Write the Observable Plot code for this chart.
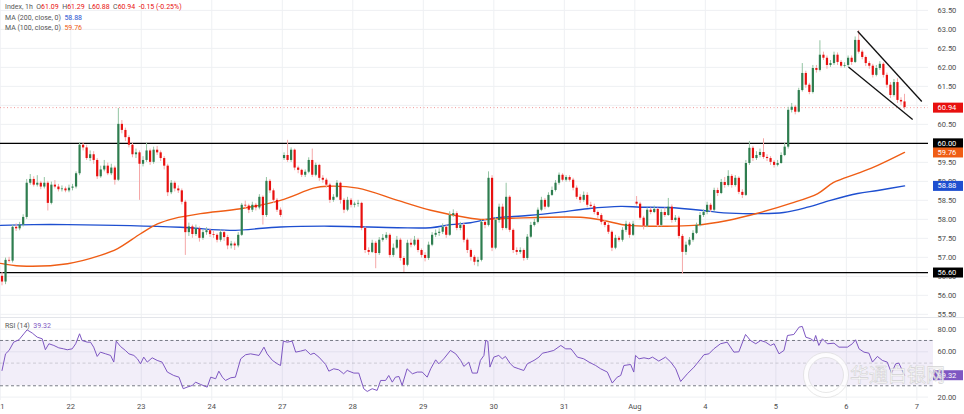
<!DOCTYPE html>
<html><head><meta charset="utf-8">
<script src="https://cdn.jsdelivr.net/npm/d3@7"></script>
<script src="https://cdn.jsdelivr.net/npm/@observablehq/plot@0.6"></script>
<style>
body{margin:0;background:#fff;font-family:Roboto,"Noto Sans",sans-serif;}
#wrap{position:relative;width:964px;height:414px;overflow:hidden;background:#fff;}
#price{position:absolute;left:0;top:0;}
#rsi{position:absolute;left:0;top:318px;}
#sep{position:absolute;left:0;top:317px;width:964px;height:1px;background:#e3e5ea;}
.lg{position:absolute;left:5px;font-size:7px;color:#555;white-space:pre;line-height:8px;}
.r{color:#e8100f}.b{color:#1e4fd0}.o{color:#ef5d15}.p{color:#7e57c2}
#wm{position:absolute;left:800px;top:350px;pointer-events:none;}
</style></head><body>
<div id="wrap">
  <div id="price"></div>
  <div id="sep"></div>
  <div id="rsi"></div>
  <div class="lg" style="top:3px">Index, 1h  O<span class="r">61.09</span>  H<span class="r">61.29</span>  L<span class="r">60.88</span>  C<span class="r">60.94</span>  <span class="r">-0.15 (-0.25%)</span></div>
  <div class="lg" style="top:14px">MA (200, close, 0)  <span class="b">58.88</span></div>
  <div class="lg" style="top:24px">MA (100, close, 0)  <span class="o">59.76</span></div>
  <div class="lg" style="top:322px">RSI (14)  <span class="p">39.32</span></div>
  <svg id="wm" width="160" height="52">
    <circle cx="26" cy="25" r="20" fill="none" stroke="#fff" stroke-width="5" opacity="0.8"/>
    <circle cx="26" cy="25" r="22.5" fill="none" stroke="#d6d6d6" stroke-width="0.6"/>
    <circle cx="26" cy="25" r="17.5" fill="none" stroke="#d6d6d6" stroke-width="0.6"/>
    <text x="50" y="32" font-family="Noto Sans CJK SC" font-size="19" fill="#fff" stroke="#cfcfcf" stroke-width="0.6" opacity="0.9">华通白银网</text>
  </svg>
</div>
<script>
// ---- data ----
const dayLabels = ["21","22","23","24","27","28","29","30","31","Aug","4","5","6","7"];
const candlesPerDay = 20;

const open = [
56.50,56.35,56.92,56.90,57.79,57.75,57.85,58.05,58.95,59.05,58.90,58.95,58.85,58.95,58.42,58.90,58.85,58.78,58.80,58.75,
58.82,58.85,59.20,59.95,59.88,59.60,59.70,59.55,59.12,59.30,59.40,59.20,59.35,59.03,60.50,60.34,60.15,59.95,59.70,59.75,
59.45,59.55,59.80,59.50,59.82,59.75,59.60,59.40,58.70,58.95,58.80,58.75,58.45,57.65,57.80,57.60,57.75,57.50,57.65,57.70,
57.60,57.58,57.45,57.65,57.52,57.30,57.35,57.30,57.58,58.37,58.35,58.24,58.37,58.30,58.58,58.10,59.00,58.75,58.50,58.24,
59.60,59.68,59.55,59.82,59.35,59.29,59.16,59.24,59.55,59.16,59.42,59.08,59.03,58.90,58.50,58.58,58.95,58.50,58.24,58.50,
58.37,58.40,58.42,57.76,57.18,57.13,57.37,57.10,57.45,57.50,57.58,57.05,57.24,57.45,56.97,56.79,57.37,57.32,57.45,57.18,
57.05,56.97,57.32,57.58,57.63,57.66,57.79,57.58,58.10,58.15,57.76,57.84,57.45,57.18,57.00,56.87,56.92,57.92,57.84,59.08,
57.24,57.97,58.32,57.76,58.58,57.71,57.18,57.13,57.18,56.97,57.53,57.84,57.92,58.24,58.50,58.32,58.63,58.76,58.95,59.16,
59.03,59.10,59.03,58.82,58.58,58.50,58.63,58.37,58.34,58.18,58.10,57.92,57.84,57.66,57.24,57.50,57.45,57.71,57.87,57.58,
58.45,58.40,58.03,57.82,58.24,58.18,58.26,57.84,58.18,58.10,58.32,57.97,58.03,57.55,57.13,57.32,57.45,57.63,57.84,58.10,
58.18,58.37,58.24,58.76,58.68,58.97,58.89,59.13,58.89,59.08,58.71,58.63,59.47,59.87,59.60,59.68,59.76,59.63,59.60,59.50,
59.42,59.47,59.68,59.90,60.87,60.95,60.82,61.39,61.84,61.53,61.34,61.97,61.92,62.32,62.24,62.05,62.10,62.32,62.13,62.03,
62.05,62.24,62.13,62.71,62.40,62.26,62.10,62.03,61.79,61.97,62.08,61.79,61.53,61.26,61.60,61.13,61.09];

const high = [
56.60,56.98,57.00,57.85,57.88,57.92,58.12,59.05,59.18,59.12,59.15,59.00,59.10,59.00,58.98,59.02,58.92,58.88,58.85,58.90,
58.92,59.25,60.02,60.02,59.95,59.80,59.78,59.60,59.40,59.55,59.48,59.45,59.40,60.92,60.60,60.40,60.20,60.00,59.85,59.80,
59.65,60.00,59.85,59.90,59.92,59.80,59.65,59.45,59.02,59.00,58.88,58.80,58.50,57.90,57.85,57.85,57.80,57.72,57.78,57.75,
57.68,57.62,57.72,57.70,57.58,57.42,57.40,57.65,58.42,58.48,58.40,58.45,58.42,58.65,58.62,59.10,59.05,58.80,58.55,58.30,
59.75,60.08,59.88,59.85,59.40,59.32,59.30,59.62,59.85,59.48,59.45,59.15,59.08,58.95,58.65,59.02,58.98,58.55,58.58,58.55,
58.45,58.50,58.45,57.80,57.25,57.45,57.42,57.52,57.60,57.65,57.62,57.35,57.55,57.50,57.02,57.45,57.48,57.55,57.50,57.22,
57.12,57.40,57.65,57.72,57.75,57.88,57.85,58.20,58.25,58.20,57.92,57.90,57.50,57.22,57.05,57.00,57.98,58.00,59.25,59.15,
58.05,58.40,58.40,58.95,58.62,57.75,57.25,57.25,57.22,57.60,57.92,58.00,58.30,58.58,58.55,58.70,58.85,59.02,59.22,59.20,
59.15,59.15,59.08,58.88,58.65,58.72,58.70,58.45,58.40,58.22,58.15,57.98,57.90,57.70,57.58,57.55,57.78,57.95,57.92,57.95,
58.60,58.45,58.08,58.30,58.30,58.35,58.30,58.25,58.30,58.55,58.38,58.10,58.08,57.60,57.40,57.52,57.70,57.90,58.18,58.25,
58.45,58.42,58.82,58.82,59.05,59.10,59.28,59.18,59.15,59.12,58.78,59.55,60.05,59.92,59.78,59.85,60.12,59.70,59.65,59.55,
59.55,59.75,60.00,60.95,61.05,61.00,61.45,62.10,61.90,61.58,62.05,62.05,62.70,62.40,62.30,62.18,62.40,62.38,62.18,62.12,
62.30,62.30,62.80,62.97,62.45,62.30,62.15,62.08,62.05,62.15,62.12,61.85,61.60,61.68,61.70,61.20,61.29];

const low = [
56.25,56.28,56.85,56.85,57.68,57.70,57.80,58.00,58.90,58.85,58.85,58.78,58.80,58.22,58.38,58.80,58.72,58.72,58.70,58.70,
58.75,58.80,59.15,59.80,59.55,59.52,59.45,59.05,59.08,59.25,59.15,59.15,58.90,59.00,60.25,60.05,59.88,59.62,59.60,58.50,
59.38,59.50,59.42,59.45,59.68,59.52,59.30,58.60,58.65,58.72,58.68,58.38,57.05,57.55,57.50,57.55,57.40,57.45,57.58,57.52,
57.50,57.38,57.40,57.42,57.20,57.22,57.18,57.25,57.55,58.28,58.15,58.18,58.22,58.25,57.85,58.05,58.68,58.42,58.18,58.05,
59.55,59.50,59.50,59.28,59.20,59.10,59.10,59.20,59.10,59.12,59.00,58.95,58.82,58.42,58.45,58.55,58.40,58.15,58.20,58.30,
58.30,58.32,57.70,57.10,57.05,57.10,56.70,57.05,57.40,57.45,56.98,57.00,57.20,56.90,56.60,56.75,57.25,57.28,57.12,56.98,
56.88,56.92,57.28,57.52,57.55,57.60,57.50,57.55,58.05,57.70,57.70,57.38,57.10,56.90,56.78,56.75,56.88,57.75,57.80,57.15,
57.20,57.90,57.70,57.72,57.65,57.10,57.05,57.08,56.90,56.92,57.50,57.80,57.88,58.20,58.25,58.30,58.60,58.72,58.90,58.98,
58.98,58.98,58.75,58.52,58.42,58.45,58.30,58.28,58.12,58.02,57.85,57.78,57.60,57.15,57.20,57.40,57.40,57.65,57.50,57.55,
58.35,57.98,57.72,57.78,58.12,58.15,57.78,57.80,58.05,58.08,57.90,57.92,57.48,56.55,57.05,57.28,57.40,57.60,57.80,58.05,
58.12,58.18,58.20,58.60,58.65,58.82,58.85,58.82,58.85,58.65,58.55,58.60,59.42,59.52,59.55,59.62,59.58,59.52,59.42,59.35,
59.38,59.45,59.65,59.85,60.80,60.75,60.80,61.35,61.45,61.28,61.30,61.85,61.88,62.18,61.95,62.00,62.05,62.05,61.98,61.98,
62.00,62.05,62.10,62.35,62.20,62.02,61.95,61.72,61.75,61.92,61.72,61.45,61.18,61.22,61.05,61.00,60.88];

const close = [
56.35,56.92,56.90,57.79,57.75,57.85,58.05,58.95,59.05,58.90,58.95,58.85,58.95,58.42,58.90,58.85,58.78,58.80,58.75,58.82,
58.85,59.20,59.95,59.88,59.60,59.70,59.55,59.12,59.30,59.40,59.20,59.35,59.03,60.50,60.34,60.15,59.95,59.70,59.75,59.45,
59.55,59.80,59.50,59.82,59.75,59.60,59.40,58.70,58.95,58.80,58.75,58.45,57.65,57.80,57.60,57.75,57.50,57.65,57.70,57.60,
57.58,57.45,57.65,57.52,57.30,57.35,57.30,57.58,58.37,58.35,58.24,58.37,58.30,58.58,58.10,59.00,58.75,58.50,58.24,58.10,
59.68,59.55,59.82,59.35,59.29,59.16,59.24,59.55,59.16,59.42,59.08,59.03,58.90,58.50,58.58,58.95,58.50,58.24,58.50,58.37,
58.40,58.42,57.76,57.18,57.13,57.37,57.10,57.45,57.50,57.58,57.05,57.24,57.45,56.97,56.79,57.37,57.32,57.45,57.18,57.05,
56.97,57.32,57.58,57.63,57.66,57.79,57.58,58.10,58.15,57.76,57.84,57.45,57.18,57.00,56.87,56.92,57.92,57.84,59.08,57.24,
57.97,58.32,57.76,58.58,57.71,57.18,57.13,57.18,56.97,57.53,57.84,57.92,58.24,58.50,58.32,58.63,58.76,58.95,59.16,59.03,
59.10,59.03,58.82,58.58,58.50,58.63,58.37,58.34,58.18,58.10,57.92,57.84,57.66,57.24,57.50,57.45,57.71,57.87,57.58,57.87,
58.40,58.03,57.82,58.24,58.18,58.26,57.84,58.18,58.10,58.32,57.97,58.03,57.55,57.13,57.32,57.45,57.63,57.84,58.10,58.18,
58.37,58.24,58.76,58.68,58.97,58.89,59.13,58.89,59.08,58.71,58.63,59.47,59.87,59.60,59.68,59.76,59.63,59.60,59.50,59.42,
59.47,59.68,59.90,60.87,60.95,60.82,61.39,61.84,61.53,61.34,61.97,61.92,62.32,62.24,62.05,62.10,62.32,62.13,62.03,62.05,
62.24,62.13,62.71,62.40,62.26,62.10,62.03,61.79,61.97,62.08,61.79,61.53,61.26,61.60,61.13,61.09,60.94];

const ma200X = [-0.4,8.9,18.6,50.6,64.8,79,93.2,112.2,121.6,127.2,132.9,139.4,149.1,158.4,166.1,175.5,181.1,188.8,198.2,204.7,214.3,221.7,228.5,235,242.7,248.4,256];
const ma200V = [57.84,57.86,57.86,57.79,57.71,57.80,57.82,57.78,57.78,57.86,57.91,58.03,58.10,58.19,58.28,58.34,58.32,58.31,58.24,58.17,58.15,58.18,58.32,58.50,58.68,58.76,58.88];
const ma100X = [-0.4,5.3,18.6,27.9,32.8,39.3,44.1,48.7,56.3,67.7,79,88.4,92.3,100.9,112.2,121.6,132.9,135.7,144.3,165,170.6,177.5,186.8,196.2,205.8,214.3,223.7,231.4,235.9,242.7,248.4,256];
const ma100V = [56.84,56.77,56.83,57.05,57.23,57.62,57.88,58.02,58.15,58.28,58.50,58.82,58.87,58.82,58.50,58.24,58.03,58.00,58.03,58.05,57.97,57.84,57.82,57.84,57.97,58.16,58.42,58.68,58.97,59.21,59.42,59.76];

const rsiX = [0,1,2,3.3,4.8,6.2,7.1,8.6,10,11.4,12.3,13.3,14.7,16.1,17.5,18.5,19.9,20.9,22,22.7,24.2,25.1,26,27,27.9,29.4,30.8,31.7,32.4,33.6,35,36,37.4,38.4,39.3,40.2,41.2,42.6,44,45.4,46.9,48.7,50.2,51.4,52.5,54,54.9,56.3,58.2,59.2,60.6,61.5,62.5,63.4,64.9,66.2,67.7,69.1,70.5,72.9,74.3,75.2,76.7,78.1,79,79.8,80.9,82.3,83.3,84.7,86.1,87.5,88.5,89.9,91.8,92.7,94.1,95.5,96.9,97.9,99.8,101.2,102.6,103.6,105,106.4,107.4,108.8,109.7,110.7,111.6,112.6,113.5,114.9,116.4,117.8,119.2,120.6,121.6,123,123.9,125.3,127.2,128.7,130.1,131,132.4,133.4,134.8,135.7,136.7,137.2,137.8,138.4,139.5,140.9,141.9,142.8,144.2,145.2,146.6,148,149,150.9,152.3,153.3,154.7,156.5,158.5,159.9,161.4,163.2,165,166.5,168.4,169.8,171.7,173.1,174.5,175.5,176.4,178.3,179.2,179.7,180.7,182.1,183.5,184.5,186.3,188.2,189.7,191.1,192.5,194.4,196.3,198.2,199.1,200.5,201.9,203.8,205.7,207.6,209,210.9,212.3,213.8,215.2,216.6,218,219,220.4,221.8,222.8,224.6,226.1,227,228,229.4,230.3,230.8,231.7,232.7,234.1,236,237.4,239.8,241.2,242.1,243.1,244.5,245.9,246.9,248.3,249.7,251.1,252.3,253.5,254.4,256];
const rsiV = [43.5,58.2,61.2,68.5,70.6,75.9,79.4,76.5,72.9,71.5,61.8,67.1,65.6,63.5,62.6,61.8,62.6,67.1,75.9,70,68.5,68.5,64.1,55.9,59.7,58.2,56.8,50.9,69.4,64.7,61.2,58.2,56.8,53.8,49.4,55.3,50.9,54.7,52.4,50.9,42.1,39.1,37.6,27.4,28.8,30.3,33.2,31.2,28.8,37.6,36.2,42.9,37.6,34.7,37.1,37.6,53.8,57.4,58.2,56.8,64.1,58.2,52.4,49.4,47.9,69.4,68.5,69.4,59.7,60.6,61.8,57.6,58.8,55.3,48.8,42.9,45,44.1,40.6,43.5,41.2,41.2,27.4,25,27.4,25.9,34.7,34.7,39.1,33.2,37.6,38.2,30.3,45,40.6,42.1,42.1,37.6,45,52.9,49.4,53.8,61.2,58.2,52.4,47.1,50.9,41.2,41.2,52.4,56.8,70,69.4,46.5,55.3,56.8,53.8,55.9,49.4,46.5,45,43.5,49.4,52.4,55.3,58.8,59.7,61.2,65.6,62.6,62.6,55.3,53.8,50.9,47.9,45,42.1,32.4,37.6,39.1,47.9,48.8,42.1,56.8,53.8,54.7,53.8,55.3,51.8,55.3,50.9,45,33.8,40.6,46.5,53.8,57.4,58.2,62.6,67.1,68.5,59.7,60,75.3,70,67.1,70,68.5,65.6,67.1,58.2,61.2,74.4,75.3,81.8,82.4,72.9,71.5,69.4,74.4,65.6,71.5,67.1,67.6,64.1,64.1,67.1,70.6,62.6,59.7,58.8,50.9,55.9,52.4,50.9,41.2,49.4,50,39.32];

const levels = [60.00, 56.60];
const trendX1 = [242.7, 240.1], trendY1 = [62.95, 62.01];
const trendX2 = [260.9, 258.3], trendY2 = [61.10, 60.63];
const priceGrid = [55.5,56,56.5,57,57.5,58,58.5,59,59.5,60,60.5,61,61.5,62,62.5,63,63.5];
const priceTickLabels = [55.5,56,56.5,57,57.5,58,58.5,59,59.5,60,60.5,61.5,62,62.5,63,63.5];
const rsiTicks = [80, 60, 20];
const lastPrice = 60.94, lastMA200 = 58.88, lastMA100 = 59.76, lastRSI = 39.32;

// ---- layout / style ----
const W = 964, MR = 36, H1 = 318, H2 = 96;
const xDomain = [-0.43, 262.8];
const pxPerUnit = (W - MR) / (xDomain[1] - xDomain[0]);
const boxX1 = xDomain[1] + 5 / pxPerUnit, boxX2 = xDomain[1] + 35 / pxPerUnit;
const GREEN = "#2e7d4f", RED = "#e8100f", GREEN_W = "#93c4a2", RED_W = "#f5a8a8";
const BLUE = "#1e4fd0", ORANGE = "#ef5d15", PURPLE = "#7e57c2", GRID = "#eef0f3";
const font = {fontFamily: "Roboto, 'Noto Sans', sans-serif", fontSize: "7.5px", background: "transparent", color: "#4d4d4d"};

const candles = close.map((c, i) => ({i, o: open[i], h: high[i], l: low[i], c}));
const dayTicks = dayLabels.map((_, k) => k * candlesPerDay - 0.5);
const ma200 = ma200X.map((x, k) => ({x, y: ma200V[k]}));
const ma100 = ma100X.map((x, k) => ({x, y: ma100V[k]}));
const rsi = rsiX.map((x, k) => ({x, y: rsiV[k]}));
const trends = trendX1.map((x, k) => ({x1: x, y1: trendY1[k], x2: trendX2[k], y2: trendY2[k]}));
const boxes = [
  {v: lastPrice, bg: RED},
  {v: levels[0], bg: "#000"},
  {v: lastMA100, bg: ORANGE},
  {v: lastMA200, bg: BLUE},
  {v: levels[1], bg: "#000"}
];

const price = Plot.plot({
  width: W, height: H1, marginLeft: 0, marginRight: MR, marginTop: 0, marginBottom: 0,
  x: {domain: xDomain, axis: null},
  y: {domain: [55.39, 63.76], axis: null},
  color: {type: "identity"},
  style: font,
  marks: [
    Plot.ruleY(priceGrid, {stroke: GRID}),
    Plot.ruleX(dayTicks, {stroke: GRID}),
    Plot.axisY(priceTickLabels, {anchor: "right", tickSize: 0, tickPadding: 9, tickFormat: d => d.toFixed(2), label: null, fill: "#4d4d4d"}),
    Plot.ruleY([lastPrice], {stroke: "#f19a9a", strokeDasharray: "1,2.5"}),
    Plot.ruleY(levels, {stroke: "#000", strokeWidth: 1.3}),
    Plot.line(ma200, {x: "x", y: "y", stroke: BLUE, strokeWidth: 1.4, curve: "catmull-rom"}),
    Plot.line(ma100, {x: "x", y: "y", stroke: ORANGE, strokeWidth: 1.4, curve: "catmull-rom"}),
    Plot.ruleX(candles, {x: "i", y1: "l", y2: "h", stroke: d => d.c >= d.o ? GREEN_W : RED_W, strokeWidth: 1}),
    Plot.ruleX(candles, {x: "i", y1: "o", y2: "c", stroke: d => d.c >= d.o ? GREEN : RED, strokeWidth: 2.2}),
    Plot.link(trends, {x1: "x1", y1: "y1", x2: "x2", y2: "y2", stroke: "#111", strokeWidth: 1.3}),
    Plot.ruleY(boxes, {y: "v", x1: boxX1, x2: boxX2, stroke: "bg", strokeWidth: 10}),
    Plot.text(boxes, {y: "v", text: d => d.v.toFixed(2), frameAnchor: "right", dx: 9, textAnchor: "start", fill: "#fff"})
  ]
});
document.getElementById("price").append(price);

const rsiPlot = Plot.plot({
  width: W, height: H2, marginLeft: 0, marginRight: MR, marginTop: 0, marginBottom: 14,
  x: {domain: xDomain, axis: null},
  y: {domain: [17, 89.4], axis: null},
  color: {type: "identity"},
  style: font,
  marks: [
    Plot.ruleX(dayTicks, {stroke: GRID}),
    Plot.ruleY(rsiTicks, {stroke: GRID}),
    Plot.rect([0], {x1: xDomain[0], x2: boxX1, y1: 30, y2: 70, fill: PURPLE, fillOpacity: 0.1}),
    Plot.ruleY([70, 30], {x1: xDomain[0], x2: boxX1, stroke: "#787b86", strokeDasharray: "3,2.5"}),
    Plot.ruleY([50], {x1: xDomain[0], x2: boxX1, stroke: "#787b86", strokeOpacity: 0.3, strokeDasharray: "3,2.5"}),
    Plot.line(rsi, {x: "x", y: "y", stroke: PURPLE, strokeWidth: 1}),
    Plot.axisY(rsiTicks, {anchor: "right", tickSize: 0, tickPadding: 9, tickFormat: d => d.toFixed(2), label: null, fill: "#4d4d4d"}),
    Plot.axisX(dayTicks, {anchor: "bottom", tickSize: 0, tickPadding: 3, tickFormat: d => dayLabels[dayTicks.indexOf(d)], label: null, fill: "#4d4d4d"}),
    Plot.ruleY([lastRSI], {x1: boxX1, x2: boxX2, stroke: PURPLE, strokeWidth: 10}),
    Plot.text([lastRSI], {y: d => d, text: d => d.toFixed(2), frameAnchor: "right", dx: 9, textAnchor: "start", fill: "#fff"})
  ]
});
document.getElementById("rsi").append(rsiPlot);
</script>
</body></html>
